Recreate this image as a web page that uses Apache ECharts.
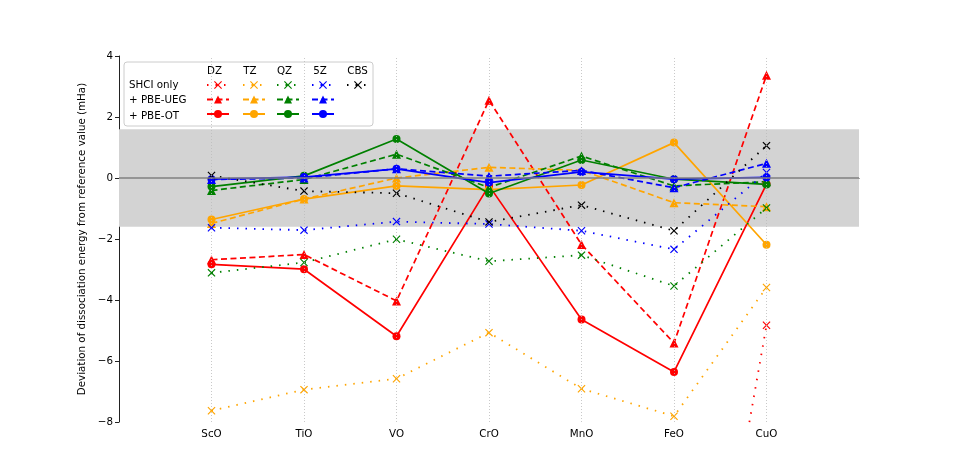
<!DOCTYPE html>
<html>
<head>
<meta charset="utf-8">
<script src="https://cdn.jsdelivr.net/npm/echarts@6/dist/echarts.min.js"></script>
<style>
  html, body { margin: 0; padding: 0; background: #fff; }
  #chart { width: 955px; height: 474px; }
</style>
</head>
<body>
<div id="chart"></div>
<script>
// molecules along the x axis
var categories = ['ScO', 'TiO', 'VO', 'CrO', 'MnO', 'FeO', 'CuO'];

// deviations (mHa); DZ SHCI is off the bottom except for FeO/CuO
var dzShci = [null, null, null, null, null, -22.0, -4.83];
var dzUeg  = [-2.68, -2.51, -4.03, 2.55, -2.18, -5.41, 3.37];
var dzOt   = [-2.83, -2.99, -5.19, -0.25, -4.64, -6.36, -0.20];
var tzShci = [-7.63, -6.94, -6.58, -5.07, -6.91, -7.81, -3.59];
var tzUeg  = [-1.49, -0.69, 0.00, 0.35, 0.25, -0.81, -0.94];
var tzOt   = [-1.36, -0.69, -0.26, -0.38, -0.23, 1.16, -2.19];
var qzShci = [-3.11, -2.77, -2.01, -2.73, -2.53, -3.54, -0.98];
var qzUeg  = [-0.41, -0.05, 0.78, -0.31, 0.72, -0.26, -0.12];
var qzOt   = [-0.28, 0.07, 1.28, -0.51, 0.59, -0.04, -0.21];
var fzShci = [-1.63, -1.71, -1.43, -1.51, -1.73, -2.34, 0.18];
var fzUeg  = [-0.05, 0.00, 0.30, 0.06, 0.25, -0.32, 0.48];
var fzOt   = [-0.04, 0.03, 0.30, -0.15, 0.20, -0.04, 0.02];
var cbs    = [0.08, -0.43, -0.50, -1.44, -0.89, -1.73, 1.06];

var yTicks = [-8, -6, -4, -2, 0, 2, 4];
var chemAcc = 1.6; // half width of grey band

var dom = document.getElementById('chart');
var myChart = echarts.init(dom);
var option;

var FONT = 'DejaVu Sans';
var FS = 10.3;
var xMark = 'path://M0,1L1,0L5,4L9,0L10,1L6,5L10,9L9,10L5,6L1,10L0,9L4,5Z';

// pad one empty slot on each side so the molecules sit one step in
var xData = [''].concat(categories, ['']);
function pad(arr) { return [null].concat(arr, [null]); }

function mk(name, data, color, kind) {
  var s = {
    name: name,
    type: 'line',
    data: pad(data),
    color: color,
    connectNulls: false,
    animation: false,
    lineStyle: { width: 1.7, color: color },
    itemStyle: { color: color }
  };
  if (kind === 'shci') {
    s.symbol = xMark;
    s.symbolSize = 8;
    s.lineStyle.type = [1.5, 7];
    s.lineStyle.width = 1.8;
  } else if (kind === 'ueg') {
    s.symbol = 'triangle';
    s.symbolSize = 9;
    s.lineStyle.type = [6, 3.5];
  } else {
    s.symbol = 'circle';
    s.symbolSize = 8;
    s.lineStyle.type = 'solid';
  }
  return s;
}

var series = [
  {
    name: 'band',
    type: 'line',
    data: [],
    silent: true,
    animation: false,
    markArea: {
      silent: true,
      itemStyle: { color: '#d3d3d3' },
      data: [[{ yAxis: -chemAcc }, { yAxis: chemAcc }]]
    },
    markLine: {
      silent: true,
      symbol: ['none', 'none'],
      label: { show: false },
      lineStyle: { color: '#bbbbbb', type: [1, 2], width: 0.8 },
      data: categories.map(function (c, i) { return { xAxis: i + 1 }; }).concat([
        { yAxis: 0, lineStyle: { color: '#808080', type: 'solid', width: 1.5 } }
      ])
    }
  },
  mk('DZ SHCI', dzShci, '#ff0000', 'shci'),
  mk('DZ UEG', dzUeg, '#ff0000', 'ueg'),
  mk('DZ OT', dzOt, '#ff0000', 'ot'),
  mk('TZ SHCI', tzShci, '#ffa500', 'shci'),
  mk('TZ UEG', tzUeg, '#ffa500', 'ueg'),
  mk('TZ OT', tzOt, '#ffa500', 'ot'),
  mk('QZ SHCI', qzShci, '#008000', 'shci'),
  mk('QZ UEG', qzUeg, '#008000', 'ueg'),
  mk('QZ OT', qzOt, '#008000', 'ot'),
  mk('5Z SHCI', fzShci, '#0000ff', 'shci'),
  mk('5Z UEG', fzUeg, '#0000ff', 'ueg'),
  mk('5Z OT', fzOt, '#0000ff', 'ot'),
  mk('CBS', cbs, '#000000', 'shci')
];

// one legend per basis-set column, text hidden (headers/row labels are graphics)
var colX = [217, 253, 287, 322, 357];
var colSets = [
  ['DZ SHCI', 'DZ UEG', 'DZ OT'],
  ['TZ SHCI', 'TZ UEG', 'TZ OT'],
  ['QZ SHCI', 'QZ UEG', 'QZ OT'],
  ['5Z SHCI', '5Z UEG', '5Z OT'],
  ['CBS']
];
var legends = colSets.map(function (names, i) {
  return {
    orient: 'vertical',
    left: colX[i] - 11,
    top: 80,
    padding: 0,
    itemWidth: 22,
    itemHeight: 10,
    itemGap: 5.5,
    selectedMode: false,
    z: 5,
    data: names,
    formatter: function () { return ''; }
  };
});

var headers = ['DZ', 'TZ', 'QZ', '5Z', 'CBS'];
var headerX = [214.5, 250, 284.5, 320, 357.5];
var rowLabels = ['SHCI only', '+ PBE-UEG', '+ PBE-OT'];
var rowY = [85, 100.5, 116];

var graphics = [
  {
    type: 'rect',
    z: 4,
    shape: { x: 124, y: 62, width: 249, height: 64, r: 3 },
    style: { fill: 'rgba(255,255,255,0.85)', stroke: '#cccccc', lineWidth: 1 }
  }
];
headers.forEach(function (h, i) {
  graphics.push({
    type: 'text', z: 5, x: headerX[i], y: 71,
    style: { text: h, font: FS + 'px "DejaVu Sans"', fill: '#000', align: 'center', verticalAlign: 'middle' }
  });
});
rowLabels.forEach(function (r, i) {
  graphics.push({
    type: 'text', z: 5, x: 129, y: rowY[i],
    style: { text: r, font: FS + 'px "DejaVu Sans"', fill: '#000', align: 'left', verticalAlign: 'middle' }
  });
});

option = {
  backgroundColor: '#ffffff',
  animation: false,
  textStyle: { fontFamily: FONT },
  grid: {
    left: 119,
    right: 96,
    top: 56,
    bottom: 52,
    containLabel: false
  },
  legend: legends,
  graphic: graphics,
  xAxis: {
    type: 'category',
    data: xData,
    boundaryGap: false,
    axisLine: { lineStyle: { color: '#222', width: 1 } },
    axisTick: {
      length: 4,
      lineStyle: { color: '#222' },
      interval: function (i) { return i > 0 && i < xData.length - 1; }
    },
    axisLabel: {
      color: '#000',
      fontSize: FS,
      fontFamily: FONT,
      margin: 7,
      interval: function (i) { return i > 0 && i < xData.length - 1; }
    },
    splitLine: { show: false }
  },
  yAxis: {
    type: 'value',
    min: yTicks[0],
    max: yTicks[yTicks.length - 1],
    interval: 2,
    name: 'Deviation of dissociation energy from reference value (mHa)',
    nameLocation: 'middle',
    nameGap: 23,
    nameTextStyle: { color: '#000', fontSize: FS, fontFamily: FONT },
    axisLine: { show: true, lineStyle: { color: '#222', width: 1 } },
    axisTick: { show: true, length: 4, lineStyle: { color: '#222' } },
    axisLabel: {
      color: '#000',
      fontSize: FS,
      fontFamily: FONT,
      margin: 6,
      formatter: function (v) { return String(v).replace('-', '\u2212'); }
    },
    splitLine: { show: false }
  },
  series: series
};

if (option && typeof option === 'object') {
  myChart.setOption(option);
}
</script>
</body>
</html>
